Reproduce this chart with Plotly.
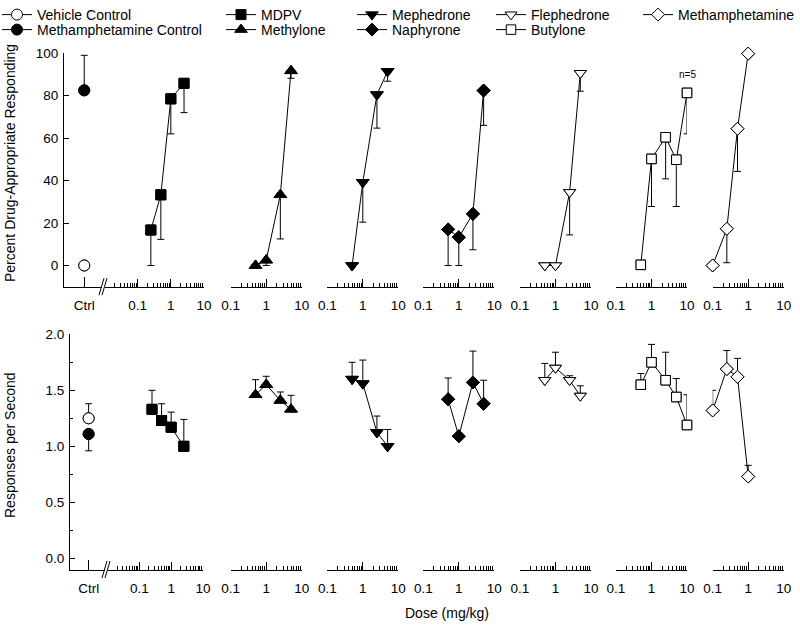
import plotly.graph_objects as go

W, H = 800, 625

# ---------------- data ----------------
ctrl_category = ["Ctrl"]

vehicle_pct = [0.0]
vehicle_pct_sem = [1.5]
meth_ctrl_pct = [82.5]
meth_ctrl_pct_sem = [16.5]

vehicle_rate = [1.25]
vehicle_rate_sem = [0.13]
meth_ctrl_rate = [1.11]
meth_ctrl_rate_sem = [0.15]

drug_names = ["MDPV", "Methylone", "Mephedrone", "Naphyrone", "Flephedrone", "Butylone", "Methamphetamine"]

mdpv_dose = [0.25, 0.5, 1, 2.5]
methylone_dose = [0.5, 1, 2.5, 5]
mephedrone_dose = [0.5, 1, 2.5, 5]
naphyrone_dose = [0.5, 1, 2.5, 5]
flephedrone_dose = [0.5, 1, 2.5, 5]
butylone_dose = [0.5, 1, 2.5, 5, 10]
meth_dose = [0.1, 0.25, 0.5, 1]

mdpv_pct = [16.7, 33.3, 78.5, 85.8]
methylone_pct = [0.0, 2.5, 33.3, 91.7]
mephedrone_pct = [0.0, 39.2, 80.5, 91.5]
naphyrone_pct = [17.0, 13.3, 24.3, 82.4]
flephedrone_pct = [0.0, 0.0, 34.5, 90.6]
butylone_pct = [0.3, 50.2, 60.4, 49.8, 81.3]
meth_pct = [0.0, 17.3, 64.4, 99.8]

mdpv_pct_sem = [16.7, 21.0, 16.5, 13.8]
methylone_pct_sem = [0.0, 2.5, 20.8, 3.5]
mephedrone_pct_sem = [0.0, 18.8, 15.8, 4.7]
naphyrone_pct_sem = [17.0, 13.3, 16.9, 16.4]
flephedrone_pct_sem = [0.0, 0.0, 20.1, 8.5]
butylone_pct_sem = [0.3, 22.4, 19.6, 22.0, 19.3]
meth_pct_sem = [0.0, 16.0, 20.1, 0.5]

mdpv_rate = [1.33, 1.23, 1.17, 1.00]
methylone_rate = [1.46, 1.55, 1.41, 1.33]
mephedrone_rate = [1.60, 1.56, 1.125, 1.00]
naphyrone_rate = [1.42, 1.09, 1.57, 1.38]
flephedrone_rate = [1.59, 1.70, 1.59, 1.45]
butylone_rate = [1.55, 1.75, 1.59, 1.44, 1.19]
meth_rate = [1.32, 1.69, 1.62, 0.73]

mdpv_rate_sem = [0.17, 0.15, 0.135, 0.24]
methylone_rate_sem = [0.135, 0.075, 0.075, 0.125]
mephedrone_rate_sem = [0.15, 0.21, 0.145, 0.15]
naphyrone_rate_sem = [0.19, 0.0, 0.28, 0.21]
flephedrone_rate_sem = [0.15, 0.14, 0.04, 0.09]
butylone_rate_sem = [0.10, 0.16, 0.25, 0.165, 0.27]
meth_rate_sem = [0.18, 0.165, 0.165, 0.10]

dose_tick_vals = [0.1, 1, 10]
dose_tick_text = ["0.1", "1", "10"]
pct_tick_vals = [0, 20, 40, 60, 80, 100]
rate_tick_vals = [0.0, 0.5, 1.0, 1.5, 2.0]
rate_tick_text = ["0.0", "0.5", "1.0", "1.5", "2.0"]

# ---------------- styles ----------------
FONT = "Liberation Sans, Arial, sans-serif"
drug_styles = {
    "MDPV": ("square", True, 10),
    "Methylone": ("triangle-up", True, 11),
    "Mephedrone": ("triangle-down", True, 11),
    "Naphyrone": ("diamond", True, 10),
    "Flephedrone": ("triangle-down", False, 10.5),
    "Butylone": ("square", False, 9.5),
    "Methamphetamine": ("diamond", False, 10),
}
drug_series = [
    ("MDPV", mdpv_dose, mdpv_pct, mdpv_pct_sem, mdpv_rate, mdpv_rate_sem),
    ("Methylone", methylone_dose, methylone_pct, methylone_pct_sem, methylone_rate, methylone_rate_sem),
    ("Mephedrone", mephedrone_dose, mephedrone_pct, mephedrone_pct_sem, mephedrone_rate, mephedrone_rate_sem),
    ("Naphyrone", naphyrone_dose, naphyrone_pct, naphyrone_pct_sem, naphyrone_rate, naphyrone_rate_sem),
    ("Flephedrone", flephedrone_dose, flephedrone_pct, flephedrone_pct_sem, flephedrone_rate, flephedrone_rate_sem),
    ("Butylone", butylone_dose, butylone_pct, butylone_pct_sem, butylone_rate, butylone_rate_sem),
    ("Methamphetamine", meth_dose, meth_pct, meth_pct_sem, meth_rate, meth_rate_sem),
]

# legend placement: (text start px, row) for each entry
legend_place = {
    "Vehicle Control": (37, 0), "Methamphetamine Control": (37, 1),
    "MDPV": (261, 0), "Methylone": (261, 1),
    "Mephedrone": (392, 0), "Naphyrone": (392, 1),
    "Flephedrone": (531, 0), "Butylone": (531, 1),
    "Methamphetamine": (678, 0),
}
legend_key = {name: ("legend" if k == 0 else f"legend{k + 1}") for k, name in enumerate(legend_place)}

fig = go.Figure()


def add_series(name, x, y, plus, minus, xa, ya, symbol, filled, size, show_legend):
    fill = "black" if filled else "white"
    marker = dict(symbol=symbol, size=size, color=fill, line=dict(color="black", width=1))
    # error bars first (beneath the markers)
    fig.add_trace(go.Scatter(
        x=x, y=y, xaxis=xa, yaxis=ya, mode="markers", marker=marker,
        error_y=dict(type="data", symmetric=False, array=plus, arrayminus=minus,
                     color="black", thickness=1, width=3.5),
        showlegend=False, cliponaxis=False, hoverinfo="skip"))
    fig.add_trace(go.Scatter(
        x=x, y=y, xaxis=xa, yaxis=ya, mode="lines+markers", name=name,
        line=dict(color="black", width=1), marker=marker,
        showlegend=show_legend, legend=legend_key[name], cliponaxis=False))


add_series("Vehicle Control", ctrl_category, vehicle_pct, [0], vehicle_pct_sem, "x", "y", "circle", False, 11, True)
add_series("Methamphetamine Control", ctrl_category, meth_ctrl_pct, meth_ctrl_pct_sem, [0], "x", "y", "circle", True, 11, True)
add_series("Vehicle Control", ctrl_category, vehicle_rate, vehicle_rate_sem, [0], "x9", "y2", "circle", False, 11, False)
add_series("Methamphetamine Control", ctrl_category, meth_ctrl_rate, [0], meth_ctrl_rate_sem, "x9", "y2", "circle", True, 11, False)

for i, (name, dose, pct, pct_sem, rate, rate_sem) in enumerate(drug_series):
    sym, filled, size = drug_styles[name]
    add_series(name, dose, pct, [0] * len(pct), pct_sem, f"x{i + 2}", "y", sym, filled, size, True)
    add_series(name, dose, rate, rate_sem, [0] * len(rate), f"x{i + 10}", "y2", sym, filled, size, False)


# ---------------- layout ----------------
def fx(p):
    return p / W


def fy(p):
    return 1 - p / H


minor_log = [m * 10 ** e for e in (-2, -1, 0) for m in range(2, 10)]

base_x = dict(showline=True, linecolor="black", linewidth=1, ticks="inside", tickcolor="black",
              tickwidth=1, showgrid=False, zeroline=False, fixedrange=True,
              tickfont=dict(size=13.5, family=FONT, color="black"), ticklabelstandoff=6)

layout = dict(width=W, height=H, margin=dict(l=0, r=0, t=0, b=0, autoexpand=False),
              plot_bgcolor="white", paper_bgcolor="white",
              font=dict(family=FONT, size=13.5, color="black"), showlegend=True)

ctrl_top_dom, ctrl_bot_dom = (64, 101.5), (70, 104.5)
mdpv_top_dom, mdpv_bot_dom = (104.5, 204), (107.5, 203)
panel_starts = [230.7, 327.3, 423.3, 520, 616, 712.7]
panel_w = 71

layout["xaxis"] = dict(base_x, type="category", range=[-0.54, 0.46], ticklen=10,
                       domain=[fx(ctrl_top_dom[0]), fx(ctrl_top_dom[1])], anchor="y")
layout["xaxis9"] = dict(base_x, type="category", range=[-0.54, 0.46], ticklen=10,
                        domain=[fx(ctrl_bot_dom[0]), fx(ctrl_bot_dom[1])], anchor="y2")
for first, anchor, mdom in [(2, "y", mdpv_top_dom), (10, "y2", mdpv_bot_dom)]:
    for j in range(7):
        if j == 0:
            dom = mdom
            rng = [-2, 1]
        else:
            s = panel_starts[j - 1]
            dom = (s, s + panel_w)
            rng = [-1, 1]
        layout[f"xaxis{first + j}"] = dict(
            base_x, type="log", range=rng, tickvals=dose_tick_vals, ticktext=dose_tick_text,
            ticklen=8, domain=[fx(dom[0]), fx(dom[1])], anchor=anchor,
            minor=dict(tickvals=minor_log, ticks="inside", ticklen=4, tickcolor="black", showgrid=False))

layout["yaxis"] = dict(range=[-10, 100], domain=[fy(286.7), fy(53.2)], anchor="x",
                       showline=True, linecolor="black", linewidth=1, ticks="inside", ticklen=5,
                       tickcolor="black", tickvals=pct_tick_vals, showgrid=False, zeroline=False,
                       fixedrange=True, tickfont=dict(size=13.5, family=FONT, color="black"),
                       ticklabelstandoff=2)
layout["yaxis2"] = dict(range=[-0.1, 2.0], domain=[fy(569.5), fy(334.3)], anchor="x9",
                        showline=True, linecolor="black", linewidth=1, ticks="inside", ticklen=5,
                        tickcolor="black", tickvals=rate_tick_vals, ticktext=rate_tick_text,
                        showgrid=False, zeroline=False, fixedrange=True,
                        minor=dict(tickvals=[0.25, 0.75, 1.25, 1.75], ticks="inside", ticklen=3,
                                   tickcolor="black", showgrid=False),
                        tickfont=dict(size=13.5, family=FONT, color="black"), ticklabelstandoff=2)

row_top = [1, -14]  # px above the top edge at which legend boxes start
for name, (tx, row) in legend_place.items():
    layout[legend_key[name]] = dict(
        x=fx(tx - 40), y=1 + row_top[row] / H, xanchor="left", yanchor="top", orientation="v",
        bgcolor="rgba(0,0,0,0)", borderwidth=0, tracegroupgap=0, itemwidth=30,
        font=dict(size=14, family=FONT, color="black"))

annotations = [
    dict(text="Percent Drug-Appropriate Responding", x=fx(10), y=fy(163), xref="paper", yref="paper",
         xanchor="center", yanchor="middle", textangle=-90, showarrow=False,
         font=dict(size=14, family=FONT, color="black")),
    dict(text="Responses per Second", x=fx(10), y=fy(445), xref="paper", yref="paper",
         xanchor="center", yanchor="middle", textangle=-90, showarrow=False,
         font=dict(size=14, family=FONT, color="black")),
    dict(text="Dose (mg/kg)", x=fx(447), y=fy(613), xref="paper", yref="paper",
         xanchor="center", yanchor="middle", showarrow=False,
         font=dict(size=14, family=FONT, color="black")),
    dict(text="n=5", x=1, y=90, xref="x7", yref="y", showarrow=False,
         font=dict(size=10, family=FONT, color="black")),
]
layout["annotations"] = annotations

shapes = []
for (ax, ay) in [(103, 286.7), (106, 569.5)]:
    for off in (-1.5, 1.5):
        shapes.append(dict(type="line", xref="paper", yref="paper",
                           x0=fx(ax + off - 2.5), y0=fy(ay + 8.5), x1=fx(ax + off + 2.5), y1=fy(ay - 8.5),
                           line=dict(color="black", width=1)))
layout["shapes"] = shapes

fig.update_layout(**layout)
fig.write_html("out.html", config={"displayModeBar": False},
               post_script="document.body.style.margin='0';")
